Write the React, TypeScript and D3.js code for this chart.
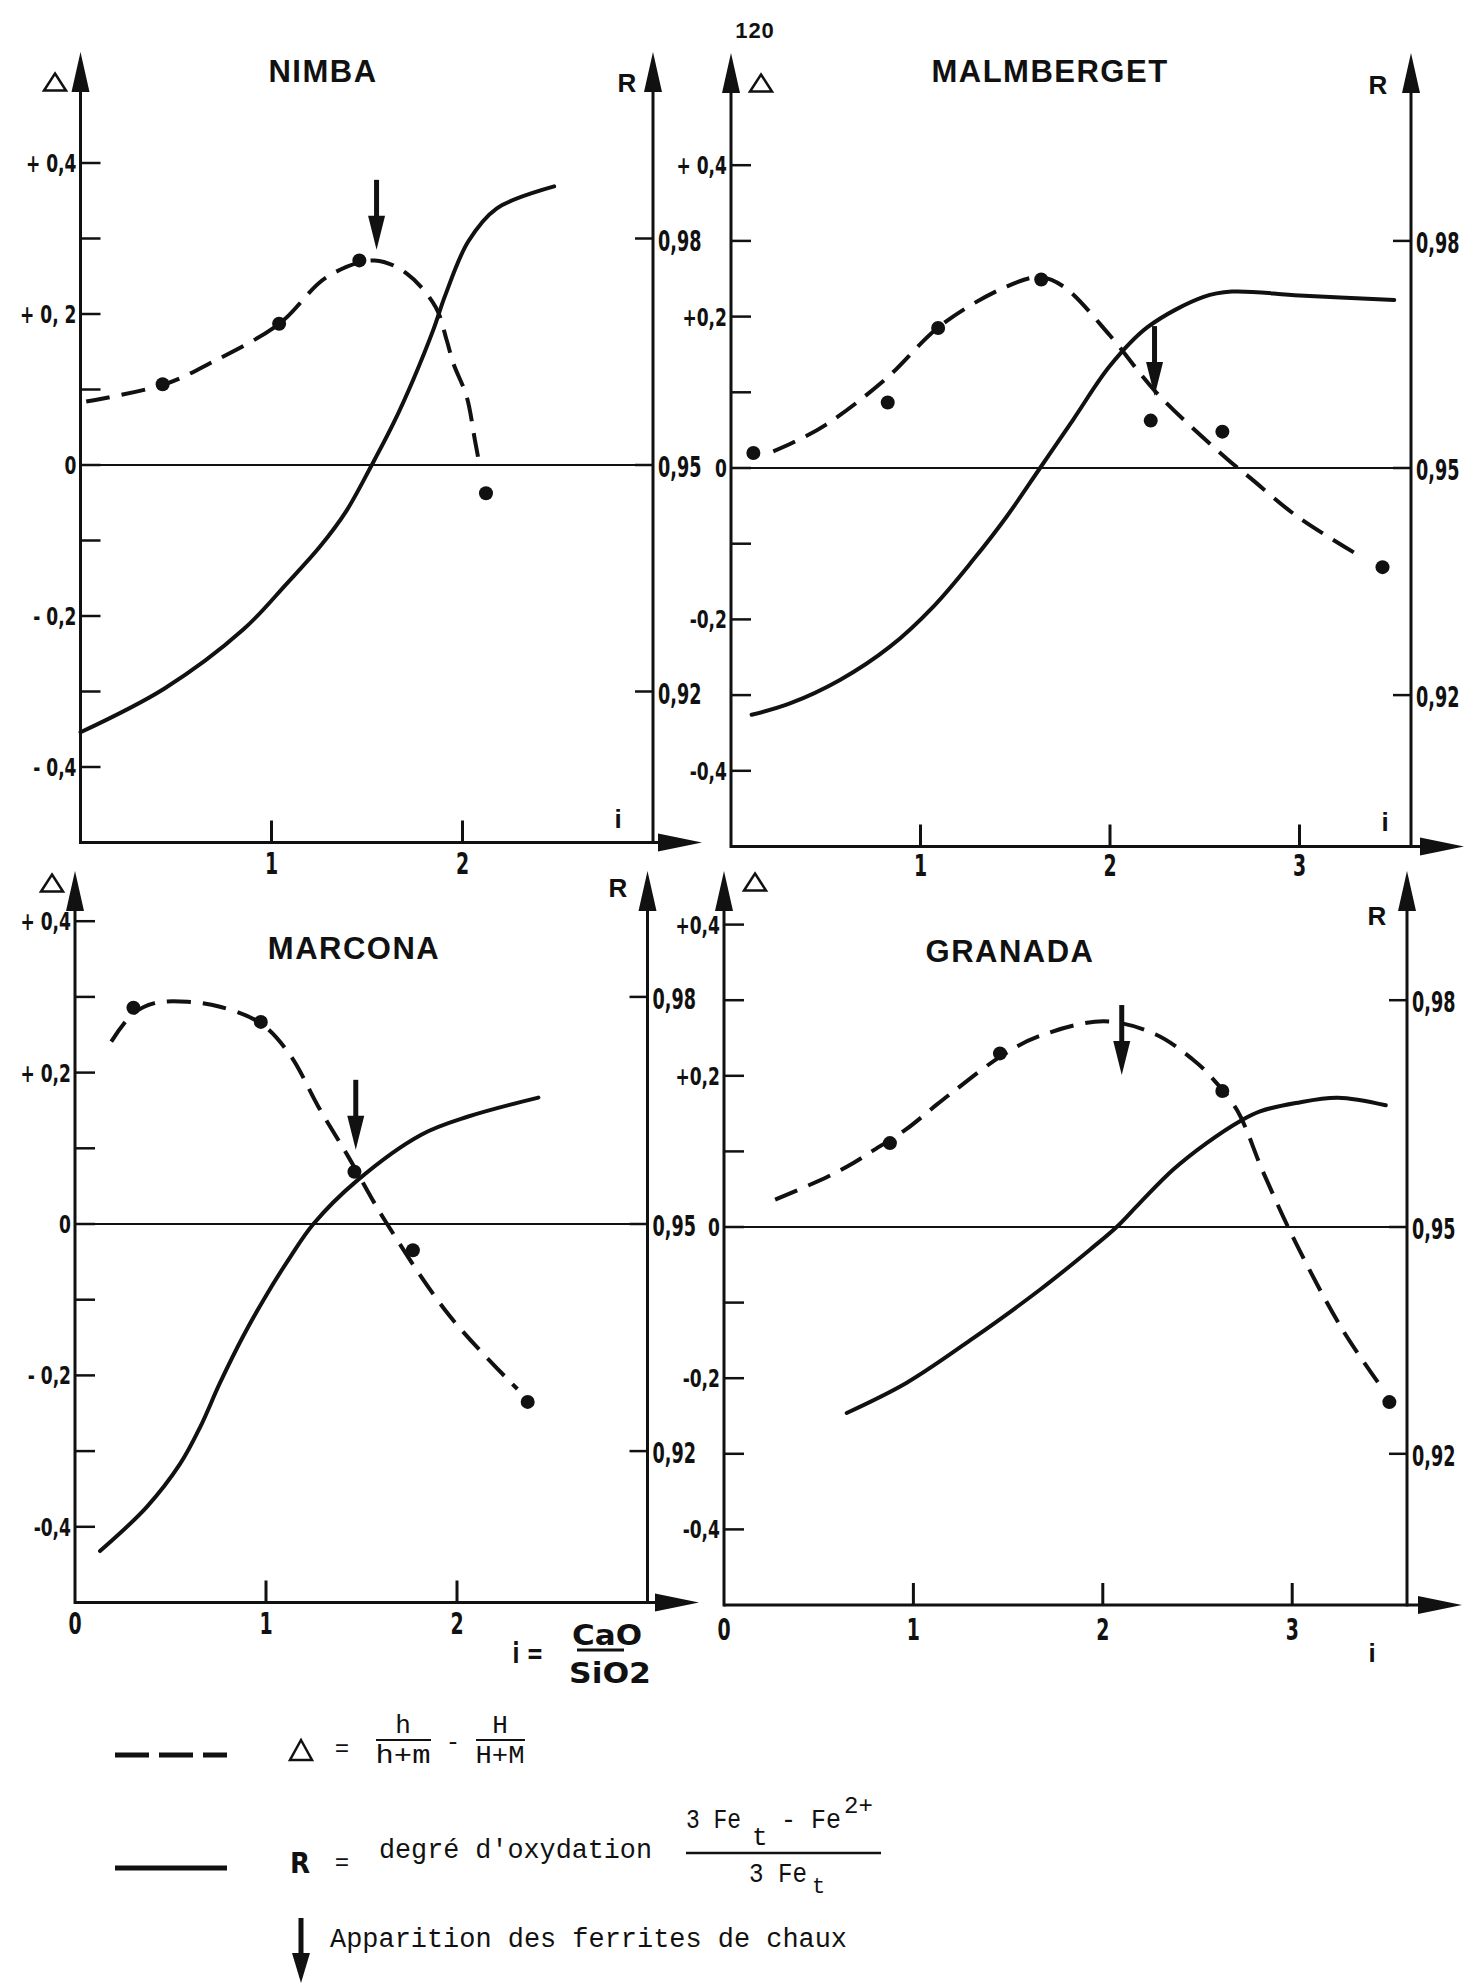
import * as d3 from 'd3';

type Pt = [number, number];

// x = i (CaO/SiO2), Δ on the left axis, R on the right axis
const nimbaDelta: Pt[] = [[0.03, 0.084], [0.44, 0.107], [0.68, 0.135], [1.04, 0.187], [1.29, 0.249], [1.54, 0.271], [1.71, 0.253], [1.86, 0.209], [1.917, 0.1656], [1.952, 0.1347], [2.022, 0.0905], [2.065, 0.033], [2.092, -0.004]];
const nimbaDots: Pt[] = [[0.43, 0.107], [1.04, 0.187], [1.46, 0.271], [2.123, -0.0375]];
const nimbaR: Pt[] = [[0, 0.9146], [0.44, 0.9204], [0.852, 0.9282], [1.08, 0.9343], [1.254, 0.9392], [1.394, 0.944], [1.525, 0.95], [1.638, 0.9555], [1.742, 0.9613], [1.847, 0.9679], [1.91, 0.9725], [2.03, 0.9796], [2.18, 0.984], [2.48, 0.9869]];
const nimbaArrow: Pt = [1.55, 0.285];

const malmDelta: Pt[] = [[0.223, 0.022], [0.33, 0.034], [0.5, 0.057], [0.814, 0.117], [1.11, 0.189], [1.457, 0.24], [1.63, 0.252], [1.753, 0.24], [2.0, 0.175], [2.247, 0.099], [2.618, 0.012], [2.74, -0.013], [2.988, -0.064], [3.31, -0.115]];
const malmDots: Pt[] = [[0.118, 0.0198], [0.827, 0.0865], [1.093, 0.185], [1.637, 0.249], [2.215, 0.0626], [2.593, 0.048], [3.438, -0.131]];
const malmR: Pt[] = [[0.109, 0.9174], [0.311, 0.9189], [0.575, 0.922], [0.839, 0.9264], [1.068, 0.9317], [1.279, 0.9379], [1.455, 0.9436], [1.631, 0.95], [1.806, 0.9564], [2.0, 0.9635], [2.198, 0.9686], [2.494, 0.9726], [2.643, 0.9733], [3.0, 0.9728], [3.5, 0.9722]];
const malmArrow: Pt = [2.235, 0.095];

const marcDelta: Pt[] = [[0.19, 0.241], [0.3, 0.277], [0.416, 0.2917], [0.588, 0.2937], [0.759, 0.287], [0.973, 0.265], [1.127, 0.223], [1.274, 0.155], [1.433, 0.088], [1.617, 0.007], [1.96, -0.121], [2.316, -0.218]];
const marcDots: Pt[] = [[0.306, 0.2856], [0.973, 0.267], [1.463, 0.069], [1.769, -0.0346], [2.37, -0.235]];
const marcR: Pt[] = [[0.131, 0.9068], [0.375, 0.9126], [0.55, 0.9183], [0.654, 0.9231], [0.759, 0.929], [0.881, 0.9352], [1.004, 0.9407], [1.126, 0.9456], [1.248, 0.95], [1.475, 0.9557], [1.813, 0.9618], [2.059, 0.9642], [2.426, 0.9667]];
const marcArrow: Pt = [1.47, 0.098];

const granDelta: Pt[] = [[0.27, 0.0361], [0.547, 0.0665], [0.683, 0.0847], [0.78, 0.1], [0.959, 0.1287], [1.123, 0.1618], [1.211, 0.179], [1.457, 0.225], [1.66, 0.252], [2.006, 0.272], [2.277, 0.255], [2.475, 0.2216], [2.574, 0.198], [2.71, 0.154], [2.846, 0.073], [3.019, -0.021], [3.266, -0.136], [3.476, -0.2135]];
const granDots: Pt[] = [[0.876, 0.111], [1.457, 0.2296], [2.631, 0.1798], [3.513, -0.2316]];
const granR: Pt[] = [[0.648, 0.9254], [0.965, 0.9294], [1.316, 0.9353], [1.668, 0.9417], [1.932, 0.947], [2.073, 0.95], [2.196, 0.9532], [2.372, 0.9576], [2.548, 0.9611], [2.724, 0.964], [2.83, 0.9653], [3.019, 0.9664], [3.241, 0.9671], [3.494, 0.9661]];
const granArrow: Pt = [2.1, 0.201];

const deltaTicks = [-0.4, -0.3, -0.2, -0.1, 0, 0.1, 0.2, 0.3, 0.4];
const deltaLabelValues = [0.4, 0.2, 0, -0.2, -0.4];
const rTicks = [0.98, 0.95, 0.92];
const rTickLabels = ['0,98', '0,95', '0,92'];

const nimbaLeftLabels = ['+ 0,4', '+ 0, 2', '0', '- 0,2', '- 0,4'];
const malmLeftLabels = ['+ 0,4', '+0,2', '0', '-0,2', '-0,4'];
const marcLeftLabels = ['+ 0,4', '+ 0,2', '0', '- 0,2', '-0,4'];
const granLeftLabels = ['+0,4', '+0,2', '0', '-0,2', '-0,4'];

const nimbaXTicks = [1, 2];
const malmXTicks = [1, 2, 3];
const marcXTicks = [0, 1, 2];
const granXTicks = [0, 1, 2, 3];

const BLACK = '#111';
const narrow = "'Liberation Sans Narrow', 'DejaVu Sans Condensed', sans-serif";
const bold = "'Liberation Sans', Arial, sans-serif";
const mono = "'Liberation Mono', 'DejaVu Sans Mono', monospace";

interface Layout {
	left: number;
	right: number;
	xUnit: number;
	zeroY: number;
	step: number;
	top: number;
	arrowEnd: number;
	xLabelY: number;
	title: [number, number];
	deltaPos: [number, number];
	rPos: [number, number];
	iPos?: [number, number];
}

const nimbaLayout: Layout = { left: 80.5, right: 653, xUnit: 191, zeroY: 465, step: 75.5, top: 52, arrowEnd: 702, xLabelY: 874, title: [323, 82], deltaPos: [55, 82], rPos: [627, 92], iPos: [618, 828] };
const malmLayout: Layout = { left: 731, right: 1411, xUnit: 189.5, zeroY: 468, step: 75.7, top: 53, arrowEnd: 1464, xLabelY: 876, title: [1050, 82], deltaPos: [761, 83], rPos: [1378, 94], iPos: [1385, 831] };
const marcLayout: Layout = { left: 75, right: 647.5, xUnit: 191, zeroY: 1224, step: 75.7, top: 871, arrowEnd: 699, xLabelY: 1634, title: [354, 959], deltaPos: [52, 883], rPos: [618, 897] };
const granLayout: Layout = { left: 724, right: 1407, xUnit: 189.4, zeroY: 1227, step: 75.6, top: 871, arrowEnd: 1462, xLabelY: 1640, title: [1010, 962], deltaPos: [755, 882], rPos: [1377, 925], iPos: [1372, 1662] };

// the scan uses a very narrow bold face, so the condensed font is squeezed further
function NText({ x, y, size, sx = 0.7, anchor = 'start', children }: { x: number; y: number; size: number; sx?: number; anchor?: 'start' | 'middle' | 'end'; children: string }) {
	return (
		<text transform={`translate(${x},${y}) scale(${sx},1)`} textAnchor={anchor} fontFamily={narrow} fontWeight="bold" fontSize={size} fill={BLACK}>
			{children}
		</text>
	);
}

function Triangle({ cx, cy, w = 22, h = 17 }: { cx: number; cy: number; w?: number; h?: number }) {
	return <path d={`M${cx},${cy - h / 2} L${cx + w / 2},${cy + h / 2} L${cx - w / 2},${cy + h / 2} Z`} fill="none" stroke={BLACK} strokeWidth={2.5} strokeLinejoin="miter" />;
}

function DownArrow({ x, tip, len = 70, head = 34, width = 17 }: { x: number; tip: number; len?: number; head?: number; width?: number }) {
	return (
		<g>
			<line x1={x} x2={x} y1={tip - len} y2={tip - head + 2} stroke={BLACK} strokeWidth={5} />
			<path d={`M${x},${tip} L${x - width / 2},${tip - head} L${x + width / 2},${tip - head} Z`} fill={BLACK} />
		</g>
	);
}

interface PanelProps {
	layout: Layout;
	name: string;
	deltaCurve: Pt[];
	dots: Pt[];
	rCurve: Pt[];
	arrow: Pt;
	leftLabels: string[];
	xTicks: number[];
}

function Panel({ layout, name, deltaCurve, dots, rCurve, arrow, leftLabels, xTicks }: PanelProps) {
	const x = d3.scaleLinear().domain([0, 1]).range([layout.left, layout.left + layout.xUnit]);
	const yD = d3.scaleLinear().domain([0, 0.1]).range([layout.zeroY, layout.zeroY - layout.step]);
	const yR = d3.scaleLinear().domain([0.95, 0.96]).range([layout.zeroY, layout.zeroY - layout.step]);
	const bottom = yD(-0.5);
	const curve = d3.curveCatmullRom.alpha(0.5);
	const lineD = d3.line<Pt>().x((d) => x(d[0])).y((d) => yD(d[1])).curve(curve);
	const lineR = d3.line<Pt>().x((d) => x(d[0])).y((d) => yR(d[1])).curve(curve);

	const vAxis = (ax: number) => (
		<g>
			<line x1={ax} x2={ax} y1={bottom + 1.5} y2={layout.top + 30} stroke={BLACK} strokeWidth={3} />
			<path d={`M${ax},${layout.top} L${ax - 9},${layout.top + 40} L${ax + 9},${layout.top + 40} Z`} fill={BLACK} />
		</g>
	);

	return (
		<g>
			{vAxis(layout.left)}
			{vAxis(layout.right)}
			<line x1={layout.left} x2={layout.arrowEnd - 30} y1={bottom} y2={bottom} stroke={BLACK} strokeWidth={3} />
			<path d={`M${layout.arrowEnd},${bottom} L${layout.arrowEnd - 44},${bottom - 9} L${layout.arrowEnd - 44},${bottom + 9} Z`} fill={BLACK} />
			<line x1={layout.left} x2={layout.right} y1={yD(0)} y2={yD(0)} stroke={BLACK} strokeWidth={2} />

			{deltaTicks.map((v) => (
				<line key={`dt${v}`} x1={layout.left} x2={layout.left + 20} y1={yD(v)} y2={yD(v)} stroke={BLACK} strokeWidth={2.5} />
			))}
			{rTicks.map((v) => (
				<line key={`rt${v}`} x1={layout.right - 18} x2={layout.right} y1={yR(v)} y2={yR(v)} stroke={BLACK} strokeWidth={2.5} />
			))}
			{xTicks.filter((v) => v > 0).map((v) => (
				<line key={`xt${v}`} x1={x(v)} x2={x(v)} y1={bottom} y2={bottom - 22} stroke={BLACK} strokeWidth={3} />
			))}

			{deltaLabelValues.map((v, k) => (
				<NText key={`dl${v}`} x={layout.left - 4} y={yD(v) + 9} size={25} sx={0.76} anchor="end">
					{leftLabels[k]}
				</NText>
			))}
			{rTicks.map((v, k) => (
				<NText key={`rl${v}`} x={layout.right + 5} y={yR(v) + 12} size={28} sx={0.7}>
					{rTickLabels[k]}
				</NText>
			))}
			{xTicks.map((v) => (
				<NText key={`xl${v}`} x={x(v)} y={layout.xLabelY} size={30} sx={0.7} anchor="middle">
					{String(v)}
				</NText>
			))}

			<text x={layout.title[0]} y={layout.title[1]} textAnchor="middle" fontFamily={bold} fontWeight="bold" fontSize={31} letterSpacing={1.5} fill={BLACK}>
				{name}
			</text>
			<Triangle cx={layout.deltaPos[0]} cy={layout.deltaPos[1]} />
			<text x={layout.rPos[0]} y={layout.rPos[1]} textAnchor="middle" fontFamily={bold} fontWeight="bold" fontSize={26} fill={BLACK}>
				R
			</text>
			{layout.iPos && (
				<text x={layout.iPos[0]} y={layout.iPos[1]} textAnchor="middle" fontFamily={bold} fontWeight="bold" fontSize={26} fill={BLACK}>
					i
				</text>
			)}

			<path d={lineR(rCurve) ?? ''} fill="none" stroke={BLACK} strokeWidth={4} strokeLinecap="round" />
			<path d={lineD(deltaCurve) ?? ''} fill="none" stroke={BLACK} strokeWidth={4} strokeDasharray="24 12" />
			{dots.map((d, k) => (
				<circle key={`dot${k}`} cx={x(d[0])} cy={yD(d[1])} r={7} fill={BLACK} />
			))}
			<DownArrow x={x(arrow[0])} tip={yD(arrow[1])} />
		</g>
	);
}

export default function App() {
	return (
		<svg width={1468} height={1985} viewBox="0 0 1468 1985" style={{ position: 'absolute', left: 0, top: 0, background: '#fff' }}>
			<rect width={1468} height={1985} fill="#fff" />
			<text x={755} y={38} textAnchor="middle" fontFamily={bold} fontWeight="bold" fontSize={22} letterSpacing={1} fill={BLACK}>
				120
			</text>

			<Panel layout={nimbaLayout} name="NIMBA" deltaCurve={nimbaDelta} dots={nimbaDots} rCurve={nimbaR} arrow={nimbaArrow} leftLabels={nimbaLeftLabels} xTicks={nimbaXTicks} />
			<Panel layout={malmLayout} name="MALMBERGET" deltaCurve={malmDelta} dots={malmDots} rCurve={malmR} arrow={malmArrow} leftLabels={malmLeftLabels} xTicks={malmXTicks} />
			<Panel layout={marcLayout} name="MARCONA" deltaCurve={marcDelta} dots={marcDots} rCurve={marcR} arrow={marcArrow} leftLabels={marcLeftLabels} xTicks={marcXTicks} />
			<Panel layout={granLayout} name="GRANADA" deltaCurve={granDelta} dots={granDots} rCurve={granR} arrow={granArrow} leftLabels={granLeftLabels} xTicks={granXTicks} />

			{/* i = CaO / SiO2 */}
			<NText x={528} y={1663} size={28} sx={0.8} anchor="middle">
				i =
			</NText>
			<text x={607} y={1645} textAnchor="middle" fontFamily={narrow} fontWeight="bold" fontSize={28} textLength={70} lengthAdjust="spacingAndGlyphs" fill={BLACK}>
				CaO
			</text>
			<line x1={577} x2={624} y1={1650} y2={1650} stroke={BLACK} strokeWidth={3} />
			<text x={610} y={1683} textAnchor="middle" fontFamily={narrow} fontWeight="bold" fontSize={28} textLength={82} lengthAdjust="spacingAndGlyphs" fill={BLACK}>
				SiO2
			</text>

			{/* legend */}
			<line x1={115} x2={227} y1={1755} y2={1755} stroke={BLACK} strokeWidth={5} strokeDasharray="34 10" />
			<Triangle cx={301} cy={1750} w={22} h={20} />
			<text x={342} y={1756} textAnchor="middle" fontFamily={mono} fontSize={24} fill={BLACK}>=</text>
			<text x={403} y={1733} textAnchor="middle" fontFamily={mono} fontSize={26} fill={BLACK}>h</text>
			<line x1={376} x2={431} y1={1740} y2={1740} stroke={BLACK} strokeWidth={2} />
			<text x={403} y={1763} textAnchor="middle" fontFamily={mono} fontSize={26} textLength={55} lengthAdjust="spacingAndGlyphs" fill={BLACK}>h+m</text>
			<text x={453} y={1749} textAnchor="middle" fontFamily={mono} fontSize={24} fill={BLACK}>-</text>
			<text x={500} y={1733} textAnchor="middle" fontFamily={mono} fontSize={26} fill={BLACK}>H</text>
			<line x1={476} x2={525} y1={1740} y2={1740} stroke={BLACK} strokeWidth={2} />
			<text x={500} y={1763} textAnchor="middle" fontFamily={mono} fontSize={26} textLength={49} lengthAdjust="spacingAndGlyphs" fill={BLACK}>H+M</text>

			<line x1={115} x2={227} y1={1868} y2={1868} stroke={BLACK} strokeWidth={5} />
			<text x={300} y={1873} textAnchor="middle" fontFamily={narrow} fontWeight="bold" fontSize={29} fill={BLACK}>R</text>
			<text x={342} y={1870} textAnchor="middle" fontFamily={mono} fontSize={24} fill={BLACK}>=</text>
			<text x={379} y={1858} fontFamily={mono} fontSize={28} textLength={273} lengthAdjust="spacingAndGlyphs" fill={BLACK}>degré d'oxydation</text>
			<text x={686} y={1828} fontFamily={mono} fontSize={28} textLength={55} lengthAdjust="spacingAndGlyphs" fill={BLACK}>3 Fe</text>
			<text x={752} y={1845} fontFamily={mono} fontSize={26} fill={BLACK}>t</text>
			<text x={781} y={1828} fontFamily={mono} fontSize={28} textLength={60} lengthAdjust="spacingAndGlyphs" fill={BLACK}>- Fe</text>
			<text x={844} y={1813} fontFamily={mono} fontSize={24} fill={BLACK}>2+</text>
			<line x1={686} x2={881} y1={1853} y2={1853} stroke={BLACK} strokeWidth={2.5} />
			<text x={749} y={1882} fontFamily={mono} fontSize={28} textLength={58} lengthAdjust="spacingAndGlyphs" fill={BLACK}>3 Fe</text>
			<text x={812} y={1893} fontFamily={mono} fontSize={22} fill={BLACK}>t</text>

			<DownArrow x={301} tip={1983} len={65} head={30} width={18} />
			<text x={330} y={1947} fontFamily={mono} fontSize={27} textLength={517} lengthAdjust="spacingAndGlyphs" fill={BLACK}>Apparition des ferrites de chaux</text>
		</svg>
	);
}
